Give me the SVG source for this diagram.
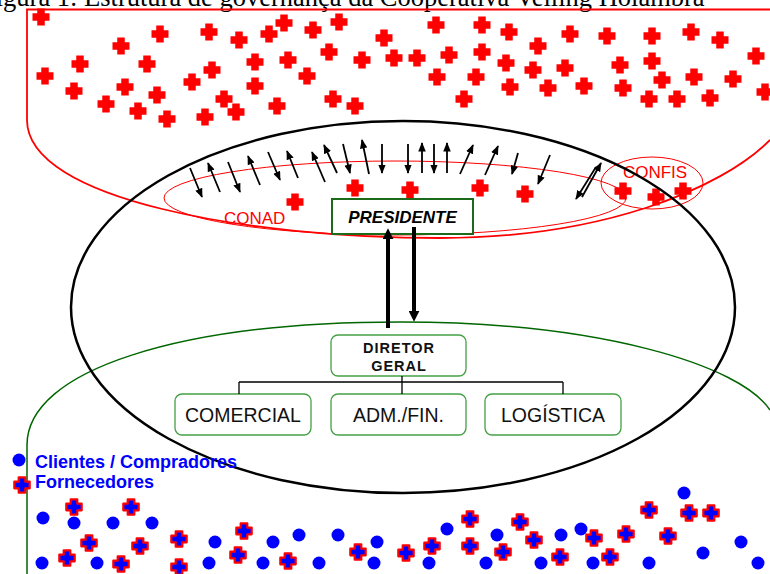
<svg xmlns="http://www.w3.org/2000/svg" width="770" height="574" viewBox="0 0 770 574">
<defs>
<style>
.rc{fill:#ff0000}
.bc{fill:#0000ff;stroke:#ff0000;stroke-width:2.2;stroke-linejoin:round}
.dot{fill:#0000ff}
.arr{stroke:#000;stroke-width:1.8;fill:none;marker-end:url(#ah)}
.big{stroke:#000;stroke-width:4;fill:none;marker-end:url(#ahb)}
.tree{stroke:#000;stroke-width:1.3;fill:none}
.sans{font-family:"Liberation Sans",Arial,sans-serif}
.box{fill:#fff;stroke:#44a044;stroke-width:1.3}
.lbl{font-size:19.5px;fill:#111;text-anchor:middle}
.red{fill:#ff0000;font-size:17px}
</style>
<path id="rx" d="M-3.75,-8.5h7.5v4.75h4.75v7.5h-4.75v4.75h-7.5v-4.75h-4.75v-7.5h4.75z"/>
<path id="bx" d="M-3.3,-7.7h6.6v4.4h4.4v6.6h-4.4v4.4h-6.6v-4.4h-4.4v-6.6h4.4z"/>
<marker id="ah" viewBox="0 0 10 8" refX="9" refY="4" markerWidth="9.5" markerHeight="7.5" markerUnits="userSpaceOnUse" orient="auto"><path d="M0,0L10,4L0,8z" fill="#000"/></marker>
<marker id="ahb" viewBox="0 0 10 10" refX="3" refY="5" markerWidth="11" markerHeight="11" markerUnits="userSpaceOnUse" orient="auto"><path d="M0,0L10,5L0,10z" fill="#000"/></marker>
</defs>
<rect width="770" height="574" fill="#fff"/>
<text x="-19" y="6" font-family="'Liberation Serif','Times New Roman',serif" font-size="26.5" fill="#000">Figura 1: Estrutura de governança da Cooperativa Veiling Holambra</text>

<g id="cooperados">
<path d="M770,9.5 H27 V120 C27,200 250,238 440,238 C600,238 720,190 770,140" fill="none" stroke="#ff0000" stroke-width="1.8"/>
<g class="rc">
<use href="#rx" x="41" y="17"/><use href="#rx" x="160" y="34"/><use href="#rx" x="209" y="32"/><use href="#rx" x="239" y="40"/><use href="#rx" x="121" y="46"/><use href="#rx" x="80" y="64"/><use href="#rx" x="147" y="64"/><use href="#rx" x="212" y="70"/><use href="#rx" x="255" y="62"/><use href="#rx" x="45" y="76"/><use href="#rx" x="74" y="91"/><use href="#rx" x="125" y="87"/><use href="#rx" x="192" y="82"/><use href="#rx" x="157" y="95"/><use href="#rx" x="255" y="86"/><use href="#rx" x="106" y="104"/><use href="#rx" x="224" y="99"/><use href="#rx" x="138" y="111"/><use href="#rx" x="167" y="119"/><use href="#rx" x="205" y="117"/><use href="#rx" x="236" y="112"/>
<use href="#rx" x="269" y="34"/><use href="#rx" x="284" y="23"/><use href="#rx" x="313" y="30"/><use href="#rx" x="339" y="22"/><use href="#rx" x="384" y="38"/><use href="#rx" x="436" y="25"/><use href="#rx" x="482" y="25"/><use href="#rx" x="509" y="32"/><use href="#rx" x="288" y="60"/><use href="#rx" x="329" y="52"/><use href="#rx" x="362" y="60"/><use href="#rx" x="394" y="58"/><use href="#rx" x="417" y="58"/><use href="#rx" x="449" y="55"/><use href="#rx" x="482" y="52"/><use href="#rx" x="506" y="63"/><use href="#rx" x="307" y="76"/><use href="#rx" x="437" y="77"/><use href="#rx" x="476" y="77"/><use href="#rx" x="510" y="87"/><use href="#rx" x="277" y="106"/><use href="#rx" x="333" y="99"/><use href="#rx" x="355" y="106"/><use href="#rx" x="464" y="99"/>
<use href="#rx" x="538" y="46"/><use href="#rx" x="570" y="34"/><use href="#rx" x="607" y="36"/><use href="#rx" x="652" y="36"/><use href="#rx" x="691" y="32"/><use href="#rx" x="720" y="40"/><use href="#rx" x="756" y="56"/><use href="#rx" x="533" y="70"/><use href="#rx" x="565" y="68"/><use href="#rx" x="620" y="65"/><use href="#rx" x="652" y="61"/><use href="#rx" x="548" y="88"/><use href="#rx" x="584" y="86"/><use href="#rx" x="623" y="88"/><use href="#rx" x="662" y="80"/><use href="#rx" x="694" y="77"/><use href="#rx" x="733" y="79"/><use href="#rx" x="649" y="99"/><use href="#rx" x="677" y="99"/><use href="#rx" x="710" y="98"/><use href="#rx" x="765" y="92"/>
<use href="#rx" x="295" y="202"/><use href="#rx" x="355" y="188"/><use href="#rx" x="410" y="190"/><use href="#rx" x="480" y="188"/><use href="#rx" x="525" y="194"/>
</g>
</g>

<g id="mercado">
<path d="M27,574 V445 C27,370 180,322 400,322 C600,322 740,365 770,410" fill="none" stroke="#006600" stroke-width="1.5"/>
</g>

<g id="conad">
<ellipse cx="395" cy="198" rx="231" ry="37" fill="none" stroke="#ff0000" stroke-width="1"/>
<text class="sans red" x="224" y="224">CONAD</text>
</g>

<g id="confis">
<ellipse cx="652" cy="183" rx="51" ry="26" fill="none" stroke="#ff0000" stroke-width="1"/>
<text class="sans red" x="655" y="178" text-anchor="middle">CONFIS</text>
<g class="rc"><use href="#rx" x="623" y="191"/><use href="#rx" x="656" y="197"/><use href="#rx" x="683" y="191"/></g>
</g>

<g id="cooperativa">
<ellipse cx="403" cy="307" rx="332" ry="186" fill="none" stroke="#000" stroke-width="2.5"/>
</g>

<g id="presidente">
<rect x="332" y="199" width="141" height="35" fill="#fff" stroke="#1b6b1b" stroke-width="2"/>
<text class="sans" x="402.5" y="223" font-size="17" font-weight="bold" font-style="italic" text-anchor="middle" fill="#000">PRESIDENTE</text>
</g>

<g id="diretor-geral">
<rect class="box" x="331" y="335" width="135" height="41" rx="7"/>
<text class="sans" x="399" y="353" font-size="14.5" font-weight="bold" letter-spacing="1" text-anchor="middle" fill="#111">DIRETOR</text>
<text class="sans" x="399" y="371" font-size="14.5" font-weight="bold" letter-spacing="1" text-anchor="middle" fill="#111">GERAL</text>
</g>
<g id="comercial">
<rect class="box" x="175" y="394" width="136" height="41" rx="7"/>
<text class="sans lbl" x="243" y="422">COMERCIAL</text>
</g>
<g id="adm-fin">
<rect class="box" x="331" y="394" width="135" height="41" rx="7"/>
<text class="sans lbl" x="398.5" y="422">ADM./FIN.</text>
</g>
<g id="logistica">
<rect class="box" x="485" y="394" width="136" height="41" rx="7"/>
<text class="sans lbl" x="553" y="422">LOGÍSTICA</text>
</g>

<g id="connectors">
<path class="tree" d="M402,376V394M239,382H563M239,382V394M563,382V394"/>
<line class="big" x1="388" y1="328" x2="388" y2="236"/>
<line class="big" x1="414" y1="227" x2="414" y2="314"/>
<line class="arr" x1="190" y1="168" x2="202" y2="197"/>
<line class="arr" x1="220" y1="192" x2="208" y2="163"/>
<line class="arr" x1="228" y1="162" x2="240" y2="192"/>
<line class="arr" x1="260" y1="185" x2="248" y2="156"/>
<line class="arr" x1="268" y1="152" x2="280" y2="180"/>
<line class="arr" x1="298" y1="178" x2="287" y2="151"/>
<line class="arr" x1="325" y1="182" x2="312" y2="152"/>
<line class="arr" x1="337" y1="173" x2="324" y2="145"/>
<line class="arr" x1="343" y1="144" x2="350" y2="173"/>
<line class="arr" x1="369" y1="174" x2="362" y2="140"/>
<line class="arr" x1="382" y1="144" x2="382" y2="173"/>
<line class="arr" x1="408" y1="144" x2="408" y2="173"/>
<line class="arr" x1="422" y1="173" x2="422" y2="143"/>
<line class="arr" x1="434" y1="144" x2="434" y2="173"/>
<line class="arr" x1="447" y1="173" x2="447" y2="143"/>
<line class="arr" x1="460" y1="174" x2="473" y2="145"/>
<line class="arr" x1="485" y1="175" x2="498" y2="146"/>
<line class="arr" x1="518" y1="153" x2="512" y2="174"/>
<line class="arr" x1="550" y1="155" x2="538" y2="184"/>
<line class="arr" x1="596" y1="167" x2="576" y2="199"/>
<line class="arr" x1="582" y1="197" x2="601" y2="163"/>
</g>

<g id="legenda">
<circle class="dot" cx="19" cy="460" r="6.5"/>
<use class="bc" href="#bx" x="22" y="485"/>
<text class="sans" x="35" y="468" font-size="18" font-weight="bold" fill="#0000ff">Clientes / Compradores</text>
<text class="sans" x="35" y="488" font-size="18" font-weight="bold" fill="#0000ff">Fornecedores</text>
</g>

<g id="clientes">
<circle class="dot" cx="43" cy="518" r="6.5"/><circle class="dot" cx="74" cy="523" r="6.5"/><circle class="dot" cx="113" cy="523" r="6.5"/><circle class="dot" cx="152" cy="523" r="6.5"/><circle class="dot" cx="42" cy="563" r="6.5"/><circle class="dot" cx="97" cy="563" r="6.5"/><circle class="dot" cx="209" cy="563" r="6.5"/><circle class="dot" cx="215" cy="542" r="6.5"/><circle class="dot" cx="273" cy="542" r="6.5"/><circle class="dot" cx="299" cy="535" r="6.5"/><circle class="dot" cx="263" cy="563" r="6.5"/><circle class="dot" cx="319" cy="563" r="6.5"/><circle class="dot" cx="338" cy="535" r="6.5"/><circle class="dot" cx="377" cy="542" r="6.5"/><circle class="dot" cx="374" cy="563" r="6.5"/><circle class="dot" cx="447" cy="529" r="6.5"/><circle class="dot" cx="497" cy="535" r="6.5"/><circle class="dot" cx="561" cy="535" r="6.5"/><circle class="dot" cx="581" cy="529" r="6.5"/><circle class="dot" cx="429" cy="563" r="6.5"/><circle class="dot" cx="486" cy="563" r="6.5"/><circle class="dot" cx="541" cy="563" r="6.5"/><circle class="dot" cx="593" cy="563" r="6.5"/><circle class="dot" cx="649" cy="563" r="6.5"/><circle class="dot" cx="703" cy="553" r="6.5"/><circle class="dot" cx="684" cy="493" r="6.5"/><circle class="dot" cx="741" cy="542" r="6.5"/><circle class="dot" cx="758" cy="563" r="6.5"/>
</g>
<g id="fornecedores" class="bc">
<use href="#bx" x="74" y="507"/><use href="#bx" x="131" y="507"/><use href="#bx" x="89" y="543"/><use href="#bx" x="140" y="546"/><use href="#bx" x="179" y="539"/><use href="#bx" x="67" y="558"/><use href="#bx" x="121" y="564"/><use href="#bx" x="179" y="567"/><use href="#bx" x="244" y="531"/><use href="#bx" x="238" y="555"/><use href="#bx" x="288" y="561"/><use href="#bx" x="358" y="552"/><use href="#bx" x="406" y="553"/><use href="#bx" x="432" y="546"/><use href="#bx" x="470" y="519"/><use href="#bx" x="470" y="546"/><use href="#bx" x="503" y="552"/><use href="#bx" x="520" y="522"/><use href="#bx" x="534" y="540"/><use href="#bx" x="560" y="557"/><use href="#bx" x="594" y="538"/><use href="#bx" x="610" y="557"/><use href="#bx" x="626" y="534"/><use href="#bx" x="649" y="510"/><use href="#bx" x="668" y="536"/><use href="#bx" x="689" y="513"/><use href="#bx" x="711" y="513"/>
</g>
</svg>
